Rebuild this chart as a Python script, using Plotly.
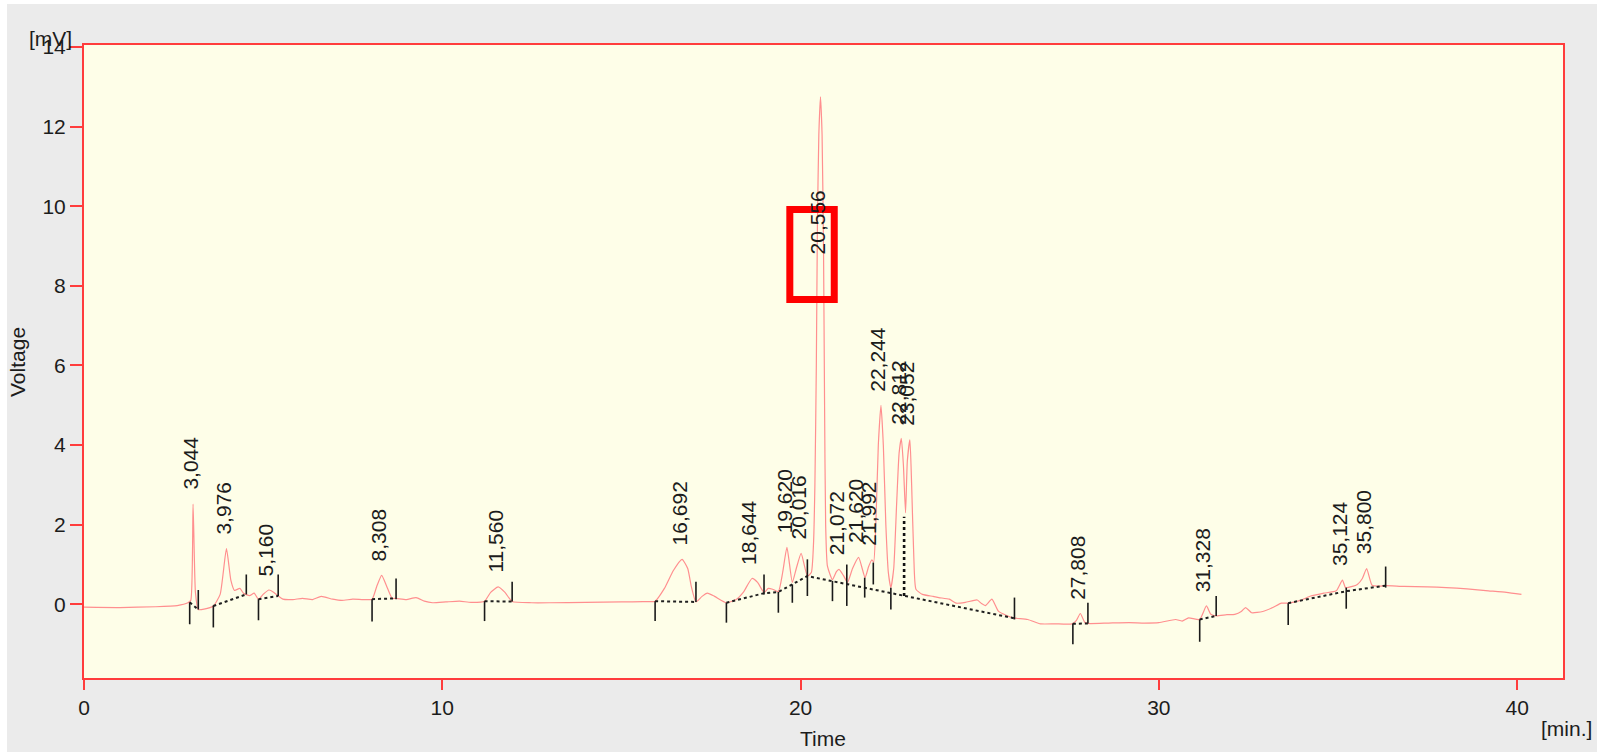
import plotly.graph_objects as go

# Chromatogram: retention time [min] and detector signal [mV]
time_min = [
    0.0, 1.0, 2.0, 2.6, 2.9, 2.98, 3.044, 3.11, 3.19, 3.35, 3.61, 3.8, 3.976, 4.1, 4.2,
    4.35, 4.45, 4.62, 4.75, 4.87, 5.0, 5.16, 5.3, 5.42, 5.55, 5.83, 6.1, 6.38, 6.62,
    6.94, 7.2, 7.5, 7.8, 8.04, 8.17, 8.308, 8.45, 8.6, 8.71, 9.0, 9.27, 9.5, 9.73,
    10.1, 10.48, 10.8, 11.18, 11.35, 11.56, 11.75, 11.95, 12.5, 13.0, 14.0, 15.0,
    15.6, 15.94, 16.2, 16.45, 16.692, 16.85, 16.95, 17.08, 17.25, 17.4, 17.6, 17.93,
    18.2, 18.4, 18.644, 18.8, 18.98, 19.1, 19.22, 19.38, 19.5, 19.62, 19.77, 19.88,
    20.016, 20.19, 20.3, 20.36, 20.4, 20.44, 20.47, 20.51, 20.556, 20.6, 20.64, 20.67,
    20.7, 20.75, 20.89, 21.0, 21.072, 21.2, 21.31, 21.45, 21.62, 21.8, 21.9, 21.992,
    22.04, 22.1, 22.17, 22.244, 22.31, 22.38, 22.45, 22.52, 22.6, 22.68, 22.75,
    22.812, 22.87, 22.93, 22.98, 23.052, 23.1, 23.16, 23.22, 23.4, 23.7, 23.86, 24.15,
    24.34, 24.6, 24.93, 25.05, 25.16, 25.34, 25.52, 25.75, 25.93, 26.34, 26.7, 27.1,
    27.58, 27.7, 27.808, 27.93, 28.02, 28.6, 29.17, 29.6, 30.0, 30.47, 30.65, 30.83,
    31.14, 31.328, 31.45, 31.6, 31.9, 32.12, 32.3, 32.42, 32.59, 32.9, 33.18, 33.42,
    33.61, 33.95, 34.24, 34.6, 34.95, 35.124, 35.21, 35.4, 35.54, 35.68, 35.8, 35.95,
    36.15, 36.33, 36.84, 37.5, 38.02, 38.6, 39.2, 39.7, 40.12,
]
signal_mv = [
    -0.07, -0.08, -0.06, -0.03, 0.04, 0.1, 2.52, 0.3, -0.13, -0.12, -0.04, 0.25, 1.40, 0.6, 0.35,
    0.40, 0.28, 0.22, 0.28, 0.13, 0.25, 0.36, 0.30, 0.21, 0.13, 0.12, 0.15, 0.12, 0.20,
    0.13, 0.10, 0.13, 0.12, 0.13, 0.45, 0.73, 0.45, 0.15, 0.15, 0.12, 0.17, 0.08, 0.04,
    0.06, 0.08, 0.05, 0.08, 0.30, 0.44, 0.30, 0.07, 0.04, 0.04, 0.05, 0.06,
    0.07, 0.08, 0.40, 0.85, 1.13, 0.90, 0.45, 0.06, 0.20, 0.28, 0.20, 0.04,
    0.12, 0.30, 0.65, 0.55, 0.30, 0.40, 0.38, 0.32, 0.80, 1.43, 0.55, 0.90,
    1.28, 0.71, 0.80, 1.50, 3.00, 6.00, 9.50, 11.80, 12.75, 11.80, 9.00, 5.00,
    2.00, 0.96, 0.62, 0.82, 0.88, 0.72, 0.55, 0.90, 1.18, 0.67, 0.95, 1.12,
    1.06, 2.00, 4.00, 5.00, 4.00, 2.00, 0.80, 0.42, 0.90, 2.50, 3.80,
    4.17, 3.50, 2.30, 3.60, 4.13, 3.00, 1.20, 0.38, 0.25, 0.20, 0.17, 0.13,
    0.03, 0.05, 0.11, 0.02, -0.03, 0.13, -0.17, -0.28, -0.34, -0.38, -0.49, -0.49,
    -0.49, -0.40, -0.23, -0.45, -0.48, -0.47, -0.46, -0.47, -0.46, -0.38, -0.42, -0.34,
    -0.38, -0.04, -0.25, -0.29, -0.26, -0.25, -0.18, -0.08, -0.21, -0.18, -0.08, 0.03,
    0.03, 0.10, 0.21, 0.28, 0.34, 0.61, 0.42, 0.45, 0.50, 0.65, 0.90, 0.48,
    0.46, 0.47, 0.45, 0.44, 0.42, 0.39, 0.34, 0.30, 0.25,
]

# Integrated peaks: retention times and the height at which each label sits [mV]
peak_rt = [3.044, 3.976, 5.160, 8.308, 11.560, 16.692, 18.644, 19.620, 20.016, 20.556,
           21.072, 21.620, 21.992, 22.244, 22.812, 23.052, 27.808, 31.328, 35.124, 35.800]
peak_label_y = [2.52, 1.40, 0.36, 0.73, 0.44, 1.13, 0.65, 1.43, 1.28, 8.45,
                0.88, 1.18, 1.12, 5.00, 4.17, 4.13, -0.23, -0.04, 0.61, 0.90]

# Integration baselines (None separates the segments)
baseline_t = [2.95, 3.19, None, 3.61, 4.53, None, 4.87, 5.42, None, 8.04, 8.71, None,
              11.18, 11.95, None, 15.94, 17.08, None,
              17.93, 18.98, 19.38, 19.77, 20.19, 25.97, None,
              27.60, 28.02, None, 31.14, 31.60, None, 33.61, 35.23, 36.33]
baseline_v = [0.05, -0.13, None, -0.04, 0.25, None, 0.13, 0.21, None, 0.13, 0.15, None,
              0.08, 0.07, None, 0.08, 0.06, None,
              0.04, 0.28, 0.31, 0.50, 0.71, -0.35, None,
              -0.49, -0.48, None, -0.38, -0.29, None, 0.03, 0.33, 0.47]

# Peak start / end markers: time, lower and upper end [mV]
marker_t = [2.95, 3.19, 3.61, 4.53, 4.87, 5.42, 8.04, 8.71, 11.18, 11.95, 15.94, 17.08,
            17.93, 18.98, 19.38, 19.77, 20.19, 20.89, 21.29, 21.79, 22.03, 22.52,
            25.97, 27.60, 28.02, 31.14, 31.60, 33.61, 35.23, 36.33]
marker_lo = [-0.50, -0.13, -0.58, 0.25, -0.40, 0.21, -0.43, 0.13, -0.42, 0.07, -0.42, 0.06,
             -0.46, 0.25, -0.21, 0.04, 0.21, 0.08, -0.04, 0.17, 0.50, -0.13,
             -0.38, -1.00, -0.48, -0.94, -0.29, -0.52, -0.11, 0.42]
marker_hi = [0.05, 0.36, -0.03, 0.75, 0.13, 0.75, 0.13, 0.65, 0.08, 0.57, 0.08, 0.57,
             0.04, 0.75, 0.31, 0.50, 1.13, 0.59, 1.00, 0.67, 1.05, 0.42,
             0.17, -0.48, 0.04, -0.38, 0.21, 0.03, 0.42, 0.95]

# Perpendicular drop between the 22,812 and 23,052 peaks
drop_t = [22.89]
drop_lo = [0.21]
drop_hi = [2.20]

x_ticks = [0, 10, 20, 30, 40]
y_ticks = [0, 2, 4, 6, 8, 10, 12, 14]

FONT = "Arial, 'Liberation Sans', sans-serif"
TEXT = "#1c1c1c"
RED = "#ff3c3c"

W_PX, H_PX = 1600, 752
L, R, T, B = 84, 37, 45, 74
PW, PH = W_PX - L - R, H_PX - T - B


def px_x(px):
    return (px - L) / PW


def px_y(py):
    return (H_PX - B - py) / PH


fig = go.Figure()

fig.add_trace(go.Scatter(
    x=time_min, y=signal_mv, mode="lines",
    line=dict(color="#ff8f8f", width=1.2, shape="spline", smoothing=0.5),
    hoverinfo="skip", showlegend=False))

fig.add_trace(go.Scatter(
    x=baseline_t, y=baseline_v, mode="lines",
    line=dict(color="#202020", width=2, dash="dot"), hoverinfo="skip", showlegend=False))

mx, my = [], []
for t, lo, hi in zip(marker_t, marker_lo, marker_hi):
    mx += [t, t, None]
    my += [lo, hi, None]
fig.add_trace(go.Scatter(
    x=mx, y=my, mode="lines",
    line=dict(color="#1a1a1a", width=1.6), hoverinfo="skip", showlegend=False))

dx, dy = [], []
for t, lo, hi in zip(drop_t, drop_lo, drop_hi):
    dx += [t, t, None]
    dy += [lo, hi, None]
fig.add_trace(go.Scatter(
    x=dx, y=dy, mode="lines",
    line=dict(color="#111111", width=2.6, dash="dot"), hoverinfo="skip", showlegend=False))

for rt, ly in zip(peak_rt, peak_label_y):
    fig.add_annotation(
        x=rt, y=ly, xref="x", yref="y", text=f"{rt:.3f}".replace(".", ","),
        textangle=-90, showarrow=False, xanchor="center", yanchor="bottom",
        xshift=-3, yshift=12, font=dict(family=FONT, size=21, color=TEXT))

# Highlight box around the main peak label
fig.add_shape(type="rect", xref="x", yref="y", x0=19.70, x1=20.94, y0=7.66, y1=9.92,
              line=dict(color="#ff0000", width=7), fillcolor="rgba(0,0,0,0)")

# Thin white page edge around the grey panel
fig.add_shape(type="rect", xref="paper", yref="paper", layer="below",
              x0=px_x(-5), x1=px_x(7), y0=px_y(760), y1=px_y(-5),
              line=dict(width=0), fillcolor="white")
fig.add_shape(type="rect", xref="paper", yref="paper", layer="below",
              x0=px_x(-5), x1=px_x(1605), y0=px_y(4), y1=px_y(-5),
              line=dict(width=0), fillcolor="white")
fig.add_shape(type="rect", xref="paper", yref="paper", layer="below",
              x0=px_x(1597), x1=px_x(1605), y0=px_y(760), y1=px_y(-5),
              line=dict(width=0), fillcolor="white")

axis_font = dict(family=FONT, size=21, color=TEXT)
fig.add_annotation(text="Time", xref="paper", yref="paper", x=px_x(823), y=px_y(738),
                   showarrow=False, xanchor="center", yanchor="middle", font=axis_font)
fig.add_annotation(text="[min.]", xref="paper", yref="paper", x=px_x(1566), y=px_y(728),
                   showarrow=False, xanchor="center", yanchor="middle", font=axis_font)
fig.add_annotation(text="Voltage", xref="paper", yref="paper", x=px_x(17), y=px_y(362),
                   textangle=-90, showarrow=False, xanchor="center", yanchor="middle",
                   font=axis_font)
fig.add_annotation(text="[mV]", xref="paper", yref="paper", x=px_x(50), y=px_y(38),
                   showarrow=False, xanchor="center", yanchor="middle", font=axis_font)

fig.update_layout(
    width=W_PX, height=H_PX,
    margin=dict(l=L, r=R, t=T, b=B, pad=0),
    paper_bgcolor="#ebebeb", plot_bgcolor="#fefee8",
    font=dict(family=FONT, color=TEXT),
    showlegend=False,
)
fig.update_xaxes(
    range=[0, 41.28], tickvals=x_ticks, ticks="outside", ticklen=10, tickwidth=2,
    tickcolor=RED, showline=True, linecolor=RED, linewidth=2, mirror=True,
    showgrid=False, zeroline=False, tickfont=axis_font)
fig.update_yaxes(
    range=[-1.85, 14.05], tickvals=y_ticks, ticks="outside", ticklen=12, tickwidth=2,
    tickcolor=RED, showline=True, linecolor=RED, linewidth=2, mirror=True,
    showgrid=False, zeroline=False, tickfont=axis_font)

fig.write_html("out.html")
